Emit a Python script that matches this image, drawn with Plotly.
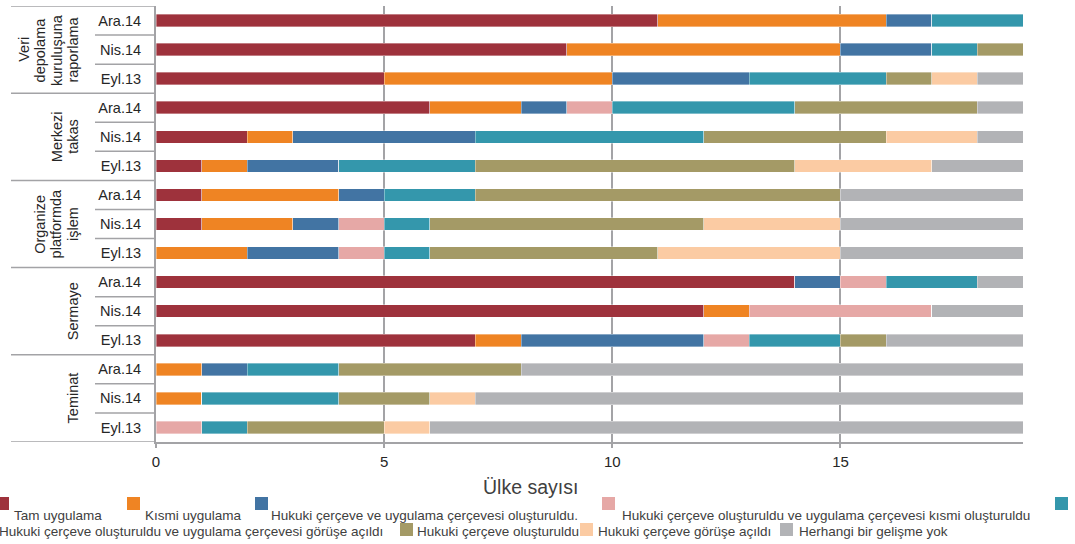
import plotly.graph_objects as go

# Canvas and plot-area margins (pixels)
W, H = 1075, 544
ML, MR, MT, MB = 156, 52, 6, 102

# ---- data -----------------------------------------------------------------
group_lines = [
    ["Veri", "depolama", "kuruluşuna", "raporlama"],
    ["Merkezi", "takas"],
    ["Organize", "platformda", "işlem"],
    ["Sermaye"],
    ["Teminat"],
]
periods = ["Ara.14", "Nis.14", "Eyl.13"]

series_names = [
    "Tam uygulama",
    "Kısmi uygulama",
    "Hukuki çerçeve ve uygulama çerçevesi oluşturuldu.",
    "Hukuki çerçeve oluşturuldu ve uygulama çerçevesi kısmi oluşturuldu",
    "Hukuki çerçeve oluşturuldu ve uygulama çerçevesi görüşe açıldı",
    "Hukuki çerçeve oluşturuldu",
    "Hukuki çerçeve görüşe açıldı",
    "Herhangi bir gelişme yok",
]

# one value per row, rows listed top to bottom (group x period)
tam_uygulama     = [11, 9, 5, 6, 2, 1, 1, 1, 0, 14, 12, 7, 0, 0, 0]
kismi_uygulama   = [5, 6, 5, 2, 1, 1, 3, 2, 2, 0, 1, 1, 1, 1, 0]
cerceve_uyg      = [1, 2, 3, 1, 4, 2, 1, 1, 2, 1, 0, 4, 1, 0, 0]
cerceve_kismi    = [0, 0, 0, 1, 0, 0, 0, 1, 1, 1, 4, 1, 0, 0, 1]
cerceve_gorus    = [2, 1, 3, 4, 5, 3, 2, 1, 1, 2, 0, 2, 2, 3, 1]
cerceve_olustu   = [0, 1, 1, 4, 4, 7, 8, 6, 5, 0, 0, 1, 4, 2, 3]
cerceve_acildi   = [0, 0, 1, 0, 2, 3, 0, 3, 4, 0, 0, 0, 0, 1, 1]
gelisme_yok      = [0, 0, 1, 1, 1, 2, 4, 4, 4, 1, 2, 3, 11, 12, 13]

series_values = [tam_uygulama, kismi_uygulama, cerceve_uyg, cerceve_kismi,
                 cerceve_gorus, cerceve_olustu, cerceve_acildi, gelisme_yok]

x_ticks = [0, 5, 10, 15]

# ---- style ----------------------------------------------------------------
colors = ["#9E323C", "#EF8423", "#4274A3", "#E6A8A6",
          "#3497AC", "#A49A66", "#FBCBA3", "#B2B3B6"]
GRID = "#A3A3A6"
TXT = "#262626"
LEG_TXT = "#404040"
SANS = "Liberation Sans, Arial, sans-serif"

n_rows = len(group_lines) * len(periods)
row_idx = list(range(n_rows))
row_labels = [p for _ in group_lines for p in periods]


def px(x):
    return (x - ML) / (W - ML - MR)


def py(y):
    return (H - MB - y) / (H - MT - MB)


fig = go.Figure()
for name, vals, col in zip(series_names, series_values, colors):
    fig.add_trace(go.Bar(
        y=row_idx, x=vals, name=name, orientation="h",
        marker=dict(color=col, line=dict(color="rgba(255,255,255,0.45)", width=0.8)),
        width=0.43, showlegend=False,
    ))

shapes = []
ng = len(periods)
# group separators on the category side
for g in range(len(group_lines) + 1):
    shapes.append(dict(type="line", xref="paper", yref="y",
                       x0=px(11), x1=px(156), y0=g * ng - 0.5, y1=g * ng - 0.5,
                       line=dict(color=GRID, width=1.5)))
# row separators next to the period labels
for r in range(1, n_rows):
    if r % ng:
        shapes.append(dict(type="line", xref="paper", yref="y",
                           x0=px(95), x1=px(156), y0=r - 0.5, y1=r - 0.5,
                           line=dict(color=GRID, width=1.5)))

annotations = []
# rotated group labels, one annotation per text line
line_step = 16.6
for g, lines in enumerate(group_lines):
    yc = g * ng + (ng - 1) / 2
    for i, t in enumerate(lines):
        xc = 73 - line_step * (len(lines) - 1 - i)
        annotations.append(dict(text=t, xref="paper", yref="y", x=px(xc), y=yc,
                                textangle=-90, showarrow=False,
                                xanchor="center", yanchor="middle",
                                font=dict(family=SANS, size=14.5, color=TXT)))

# x-axis title
annotations.append(dict(text="Ülke sayısı", xref="paper", yref="paper",
                        x=px(530), y=py(487), showarrow=False,
                        xanchor="center", yanchor="middle",
                        font=dict(family=SANS, size=19.5, color=LEG_TXT)))

# legend drawn as swatches + labels
legend_pos = [
    # (swatch left, swatch top, text left, text centre y)
    (-4, 497, 12, 515),
    (127, 497, 143, 515),
    (255, 497, 269, 515),
    (602, 497, 620, 515),
    (1055, 497, -3, 531),
    (400, 523, 415, 531),
    (580, 523, 596, 531),
    (780, 523, 797, 531),
]
for name, col, (sx, sy, tx, ty) in zip(series_names, colors, legend_pos):
    shapes.append(dict(type="rect", xref="paper", yref="paper",
                       x0=px(sx), x1=px(sx + 13), y0=py(sy + 13), y1=py(sy),
                       fillcolor=col, line=dict(width=0)))
    annotations.append(dict(text=name, xref="paper", yref="paper",
                            x=px(tx), y=py(ty), showarrow=False,
                            xanchor="left", yanchor="middle",
                            font=dict(family=SANS, size=13.5, color=LEG_TXT)))

fig.update_layout(
    width=W, height=H,
    margin=dict(l=ML, r=MR, t=MT, b=MB, pad=0),
    paper_bgcolor="white", plot_bgcolor="white",
    barmode="stack",
    shapes=shapes, annotations=annotations,
    xaxis=dict(range=[0, 19], tickvals=x_ticks, showgrid=True,
               gridcolor=GRID, gridwidth=2, zeroline=False,
               showline=True, linecolor=GRID, linewidth=2,
               ticks="outside", ticklen=4, tickcolor=GRID, tickwidth=2,
               ticklabelstandoff=1,
               tickfont=dict(family=SANS, size=15, color=TXT)),
    yaxis=dict(range=[n_rows - 0.5, -0.5], tickvals=row_idx, ticktext=row_labels,
               showgrid=False, zeroline=False,
               showline=True, linecolor=GRID, linewidth=2,
               ticks="", ticklabelstandoff=10,
               tickfont=dict(family=SANS, size=14.5, color=TXT)),
)

fig.write_html("out.html")
